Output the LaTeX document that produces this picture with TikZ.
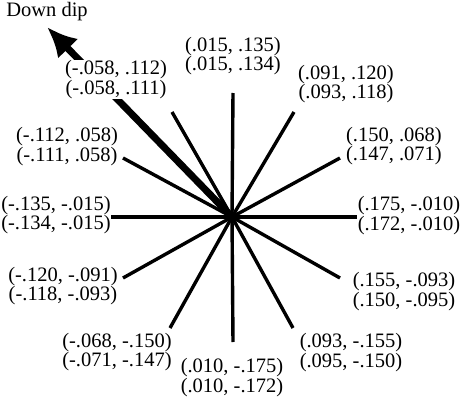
\documentclass[tikz,border=0pt]{standalone}
\usepackage{fontspec}
\setmainfont{Liberation Serif}
\usepackage{tikz}
\usetikzlibrary{arrows.meta}
\tikzset{
  lbl/.style ={align=center, inner sep=0.5pt, fill=white, font=\fontsize{20.5}{18.5}\selectfont},
  spk/.style ={line width=3.4pt, line cap=butt},
  dip/.style ={line width=7pt, -{Latex[length=30pt, width=28pt]}},
}

\begin{document}
\begin{tikzpicture}[x=1pt, y=1pt]
  \useasboundingbox (-232,-191) rectangle (229,217);
  \coordinate (o) at (0,0);
  % spoke ends
  \foreach \n/\x/\y in {e0/125/0, e30/108/59, e60/62/105, e90/1/124,
      e120/-60/105, e150/-109/59, e180/-122/0, e210/-109/-61,
      e240/-62/-111, e270/1/-125, e300/61/-111, e330/108/-61}
    \coordinate (\n) at (\x,\y);
  \coordinate (tip) at (-185,190);
  \foreach \n in {e0,e30,e60,e90,e120,e150,e180,e210,e240,e270,e300,e330}
    \draw[spk] (o) -- (\n);
  \draw[dip] (o) -- (tip);
  % readings
  \node[lbl] (l90)  at (1,161)      {(.015, .135)\\(.015, .134)};
  \node[lbl] (l60)  at (114,133)    {(.091, .120)\\(.093, .118)};
  \node[lbl] (l30)  at (162,71)     {(.150, .068)\\(.147, .071)};
  \node[lbl] (l0)   at (177,1.5)    {(.175, -.010)\\(.172, -.010)};
  \node[lbl] (l330) at (172,-74.5)  {(.155, -.093)\\(.150, -.095)};
  \node[lbl] (l300) at (119,-135.5) {(.093, -.155)\\(.095, -.150)};
  \node[lbl] (l270) at (0,-160.5)   {(.010, -.175)\\(.010, -.172)};
  \node[lbl] (l240) at (-115,-135)  {(-.068, -.150)\\(-.071, -.147)};
  \node[lbl] (l210) at (-169,-69)   {(-.120, -.091)\\(-.118, -.093)};
  \node[lbl] (l180) at (-176,2)     {(-.135, -.015)\\(-.134, -.015)};
  \node[lbl] (l150) at (-165,70.5)  {(-.112, .058)\\(-.111, .058)};
  \node[lbl] (l120) at (-116,137.5) {(-.058, .112)\\(-.058, .111)};
  \node[lbl] (dd)   at (-185,205)   {Down dip};
\end{tikzpicture}
\end{document}
